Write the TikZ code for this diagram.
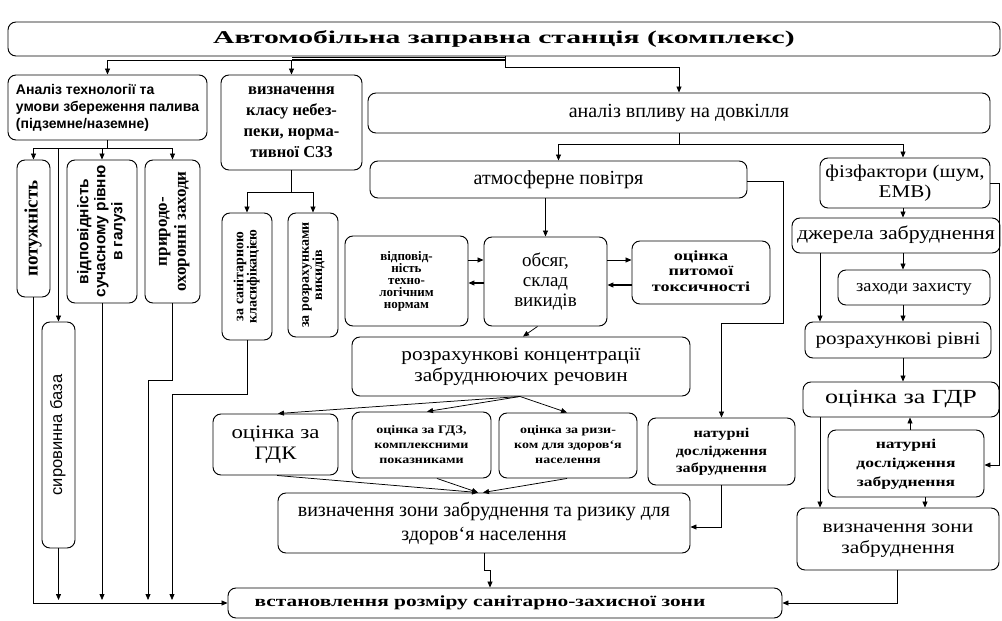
\documentclass[tikz,border=0pt]{standalone}
\usepackage{fontspec}
\setmainfont{Liberation Serif}
\setsansfont{Liberation Sans}
\usetikzlibrary{arrows.meta,calc}
\newcommand\fs[2]{\fontsize{#1}{#2}\selectfont}
\newcommand\rtx[1]{\rotatebox{90}{\begin{tabular}{@{}c@{}}#1\end{tabular}}}
\newcommand\sx[2]{\scalebox{#1}[1]{\begin{tabular}{@{}c@{}}#2\end{tabular}}}
\tikzset{
  box/.style={draw, line width=0.95pt, rounded corners=8pt, align=center, inner sep=0pt},
  ln/.style={line width=0.75pt},
  arr/.style={ln, -{Triangle[length=6pt,width=5pt]}},
}
\begin{document}
\begin{tikzpicture}[x=1pt,y=-1pt]
\useasboundingbox (0,0) rectangle (1002,621);
% ---------- nodes ----------
\node[box, minimum width=992pt, minimum height=34pt, font=\fs{18}{20}\bfseries] (top) at (504,39)
  {\scalebox{1.65}[1]{Автомобільна заправна станція (комплекс)}};
\node[box, minimum width=199pt, minimum height=65pt, align=left, font=\sffamily\bfseries\fs{14}{17}] (an) at (107.5,107.5)
  {Аналіз технології та\\умови збереження палива\\(підземне/наземне)};
\node[box, minimum width=141pt, minimum height=95pt, font=\bfseries\fs{16.5}{21}] (vk) at (291.5,122.5)
  {визначення\\класу небез-\\пеки, норма-\\тивної СЗЗ};
\node[box, minimum width=33pt, minimum height=137pt, font=\bfseries\fs{19}{21}] (pot) at (33.5,228.5)
  {\rtx{потужність}};
\node[box, minimum width=70pt, minimum height=143pt, font=\sffamily\bfseries\fs{15.5}{17}] (vid) at (102,231.5)
  {\rtx{відповідність\\сучасному рівню\\в галузі}};
\node[box, minimum width=55pt, minimum height=143pt, font=\bfseries\fs{17}{19}] (pry) at (172.5,231.5)
  {\rtx{природо-\\охоронні заходи}};
\node[box, minimum width=33pt, minimum height=226pt, font=\sffamily\fs{16.5}{18}] (syr) at (58.5,435)
  {\rtx{сировинна база}};
\node[box, minimum width=50pt, minimum height=127pt, font=\bfseries\fs{14}{12.5}] (san) at (247,276.5)
  {\rtx{за санітарною\\класифікацією}};
\node[box, minimum width=50pt, minimum height=124pt, font=\bfseries\fs{14}{12.5}] (roz) at (313,275)
  {\rtx{за розрахунками\\викидів}};
\node[box, minimum width=622pt, minimum height=40pt, font=\fs{20}{22}] (vpl) at (679,113)
  {аналіз впливу на довкілля};
\node[box, minimum width=377pt, minimum height=37pt, font=\fs{20}{22}] (atm) at (558.5,179.5)
  {атмосферне повітря};
\node[box, minimum width=123pt, minimum height=89pt, font=\fs{19}{20}] (obs) at (545.5,281.5)
  {обсяг,\\склад\\викидів};
\node[box, minimum width=123pt, minimum height=90pt, font=\bfseries\fs{13}{12}] (vtn) at (406.5,281)
  {відповід-\\ність\\техно-\\логічним\\нормам};
\node[box, minimum width=138pt, minimum height=63pt, font=\bfseries\fs{14}{15.5}] (opt) at (701,272.5)
  {\sx{1.3}{оцінка\\питомої\\токсичності}};
\node[box, minimum width=338pt, minimum height=59pt, font=\fs{19}{21}] (rk) at (521,366.5)
  {\sx{1.12}{розрахункові концентрації\\забруднюючих речовин}};
\node[box, minimum width=125pt, minimum height=61pt, font=\fs{19}{21}] (gdk) at (275.5,444.5)
  {\sx{1.2}{оцінка за\\ГДК}};
\node[box, minimum width=139pt, minimum height=66pt, font=\bfseries\fs{11.5}{15}] (gdz) at (421.5,445)
  {\sx{1.22}{оцінка за ГДЗ,\\комплексними\\показниками}};
\node[box, minimum width=138pt, minimum height=65pt, font=\bfseries\fs{11.5}{15}] (riz) at (568,445.5)
  {\sx{1.22}{оцінка за ризи-\\ком для здоров`я\\населення}};
\node[box, minimum width=147pt, minimum height=67pt, font=\bfseries\fs{13.5}{17.5}] (nat1) at (721.5,451.5)
  {\sx{1.2}{натурні\\дослідження\\забруднення}};
\node[box, minimum width=412pt, minimum height=60pt, font=\fs{20}{24}] (vz) at (484,523)
  {визначення зони забруднення та ризику для\\здоров`я населення};
\node[box, minimum width=554pt, minimum height=30pt, font=\bfseries\fs{15.5}{18}] (fin) at (505,603)
  {\scalebox{1.38}[1]{встановлення розміру санітарно-захисної зони}\hspace{50pt}};
% right column
\node[box, minimum width=170pt, minimum height=50pt, font=\fs{18}{20}] (fiz) at (905,183)
  {\sx{1.17}{фізфактори (шум,\\ЕМВ)}};
\node[box, minimum width=208pt, minimum height=35pt, font=\fs{19}{21}] (dzh) at (896,235.5)
  {\sx{1.15}{джерела забруднення}};
\node[box, minimum width=152pt, minimum height=35pt, font=\fs{17}{19}] (zah) at (914,287.5)
  {\sx{1.08}{заходи захисту}};
\node[box, minimum width=186pt, minimum height=36pt, font=\fs{18}{20}] (rr) at (898,340)
  {\sx{1.17}{розрахункові рівні}};
\node[box, minimum width=196pt, minimum height=35pt, font=\fs{20}{22}] (gdr) at (901,399.5)
  {\sx{1.3}{оцінка за ГДР}};
\node[box, minimum width=156pt, minimum height=67pt, font=\bfseries\fs{13.5}{19}] (nat2) at (906,463.5)
  {\sx{1.3}{натурні\\дослідження\\забруднення}};
\node[box, minimum width=202pt, minimum height=62pt, font=\fs{18}{21}] (vz2) at (898,539)
  {\sx{1.19}{визначення зони\\забруднення}};
% ---------- helper coordinates ----------
\coordinate (t0) at (505,60);
\coordinate (t1) at (505,67);
\coordinate (b0) at (107.5,148);
\coordinate (c0) at (291.5,192);
\coordinate (v0) at (679,144);
\coordinate (bot) at (0,603);
% ---------- connectors ----------
\draw[ln] (top.south -| t0) -- (t1);
\draw[ln, line width=1.2pt] (t0) -- (t0 -| vk);
\draw[ln] ($(t0)+(0,-2.5)$) -- ($(t0 -| vk)+(0,-2.5)$);
\draw[arr] (t0) -| (an.north);
\draw[arr] (t0 -| vk) -- (vk.north);
\draw[arr] (t1) -| (vpl.north);
% analiz branches
\draw[ln] (an.south) -- (b0);
\draw[ln] (b0 -| pot) -- (b0 -| pry);
\draw[arr] (b0 -| pot) -- (pot.north);
\draw[arr] (b0 -| vid) -- (vid.north);
\draw[arr] (b0 -| pry) -- (pry.north);
\draw[arr] (b0 -| syr) -- (syr.north);
% class branches
\draw[ln] (vk.south) -- (c0);
\draw[ln] (c0 -| san) -- (c0 -| roz);
\draw[arr] (c0 -| san) -- (san.north);
\draw[arr] (c0 -| roz) -- (roz.north);
% left bottom lines
\draw[arr] (pot.south) -- (bot -| pot) -- (fin.west);
\draw[arr] (syr.south) -- ($(bot -| syr)+(0,-3)$);
\draw[arr] (vid.south) -- ($(bot -| vid)+(0,-3)$);
\coordinate (p1) at (172.5,380);
\coordinate (p2) at (148,380);
\draw[arr] (pry.south) -- (p1) -- (p2) -- ($(bot -| p2)+(0,-3)$);
\coordinate (s1) at (247,394);
\coordinate (s2) at (172,394);
\draw[arr] (san.south) -- (s1) -- (s2) -- ($(bot -| s2)+(0,-3)$);
% environment
\draw[ln] (vpl.south -| v0) -- (v0);
\draw[arr] (v0) -| (atm.north);
\draw[arr] (v0) -| ($(fiz.north)+(-2,0)$);
\coordinate (a1) at (783,181);
\coordinate (a2) at (783,323);
\coordinate (a3) at (721.5,323);
\draw[arr] (atm.east |- a1) -- (a1) -- (a2) -- (a3) -- (nat1.north);
\draw[arr] (atm.south -| obs) -- (obs.north);
\draw[arr] ($(vtn.east)+(0,-21)$) -- ($(obs.west)+(0,-21.5)$);
\draw[arr, line width=1.2pt] ($(obs.west)+(0,1.5)$) -- ($(vtn.east)+(0,2)$);
\draw[arr] ($(obs.east)+(0,-21.5)$) -- ($(opt.west)+(0,-12.5)$);
\draw[arr, line width=1.2pt] ($(opt.west)+(0,12.5)$) -- ($(obs.east)+(0,3.5)$);
\draw[arr] ($(obs.south)+(-8,0)$) -- ($(rk.north)+(2,0)$);
\draw[arr] ($(rk.south)+(-1,0)$) -- ($(gdk.north)+(2.5,0)$);
\draw[arr] ($(rk.south)+(-1,0)$) -- ($(gdz.north)+(5.5,0)$);
\draw[arr] ($(rk.south)+(-1,0)$) -- ($(riz.north)+(-1,0)$);
\draw[arr] ($(gdk.south)+(1.5,0)$) -- ($(vz.north)+(-6,0)$);
\draw[arr] ($(gdz.south)+(15.5,0)$) -- ($(vz.north)+(-6,0)$);
\draw[arr] ($(riz.south)+(-1,0)$) -- ($(vz.north)+(-1,0)$);
\coordinate (n1) at (721.5,527);
\draw[arr] (nat1.south) -- (n1) -- (vz.east |- n1);
\coordinate (f1) at (484,570);
\coordinate (f2) at (490,570);
\draw[arr] (vz.south) -- (f1) -- (f2) -- (fin.north -| f2);
% right column
\coordinate (r0) at (903,0);
\coordinate (r1) at (820,0);
\coordinate (e1) at (999,183);
\coordinate (e2) at (999,465);
\draw[arr] (fiz.south -| r0) -- (dzh.north -| r0);
\draw[arr] (fiz.east |- e1) -- (e1) -- (e2) -- (nat2.east |- e2);
\draw[arr] (dzh.south -| r0) -- (zah.north -| r0);
\draw[arr] (dzh.south -| r1) -- (rr.north -| r1);
\draw[arr] (zah.south -| r0) -- (rr.north -| r0);
\draw[arr] (rr.south -| r0) -- (gdr.north -| r0);
\draw[arr] (gdr.south -| r1) -- (vz2.north -| r1);
\draw[arr] ($(nat2.north)+(4,0)$) -- ($(gdr.south)+(9,0)$);
\draw[arr] ($(nat2.south)+(19,0)$) -- ($(vz2.north)+(27,0)$);
\coordinate (g1) at (897,603);
\draw[arr] (vz2.south -| g1) -- (g1) -- (fin.east);
\end{tikzpicture}
\end{document}
